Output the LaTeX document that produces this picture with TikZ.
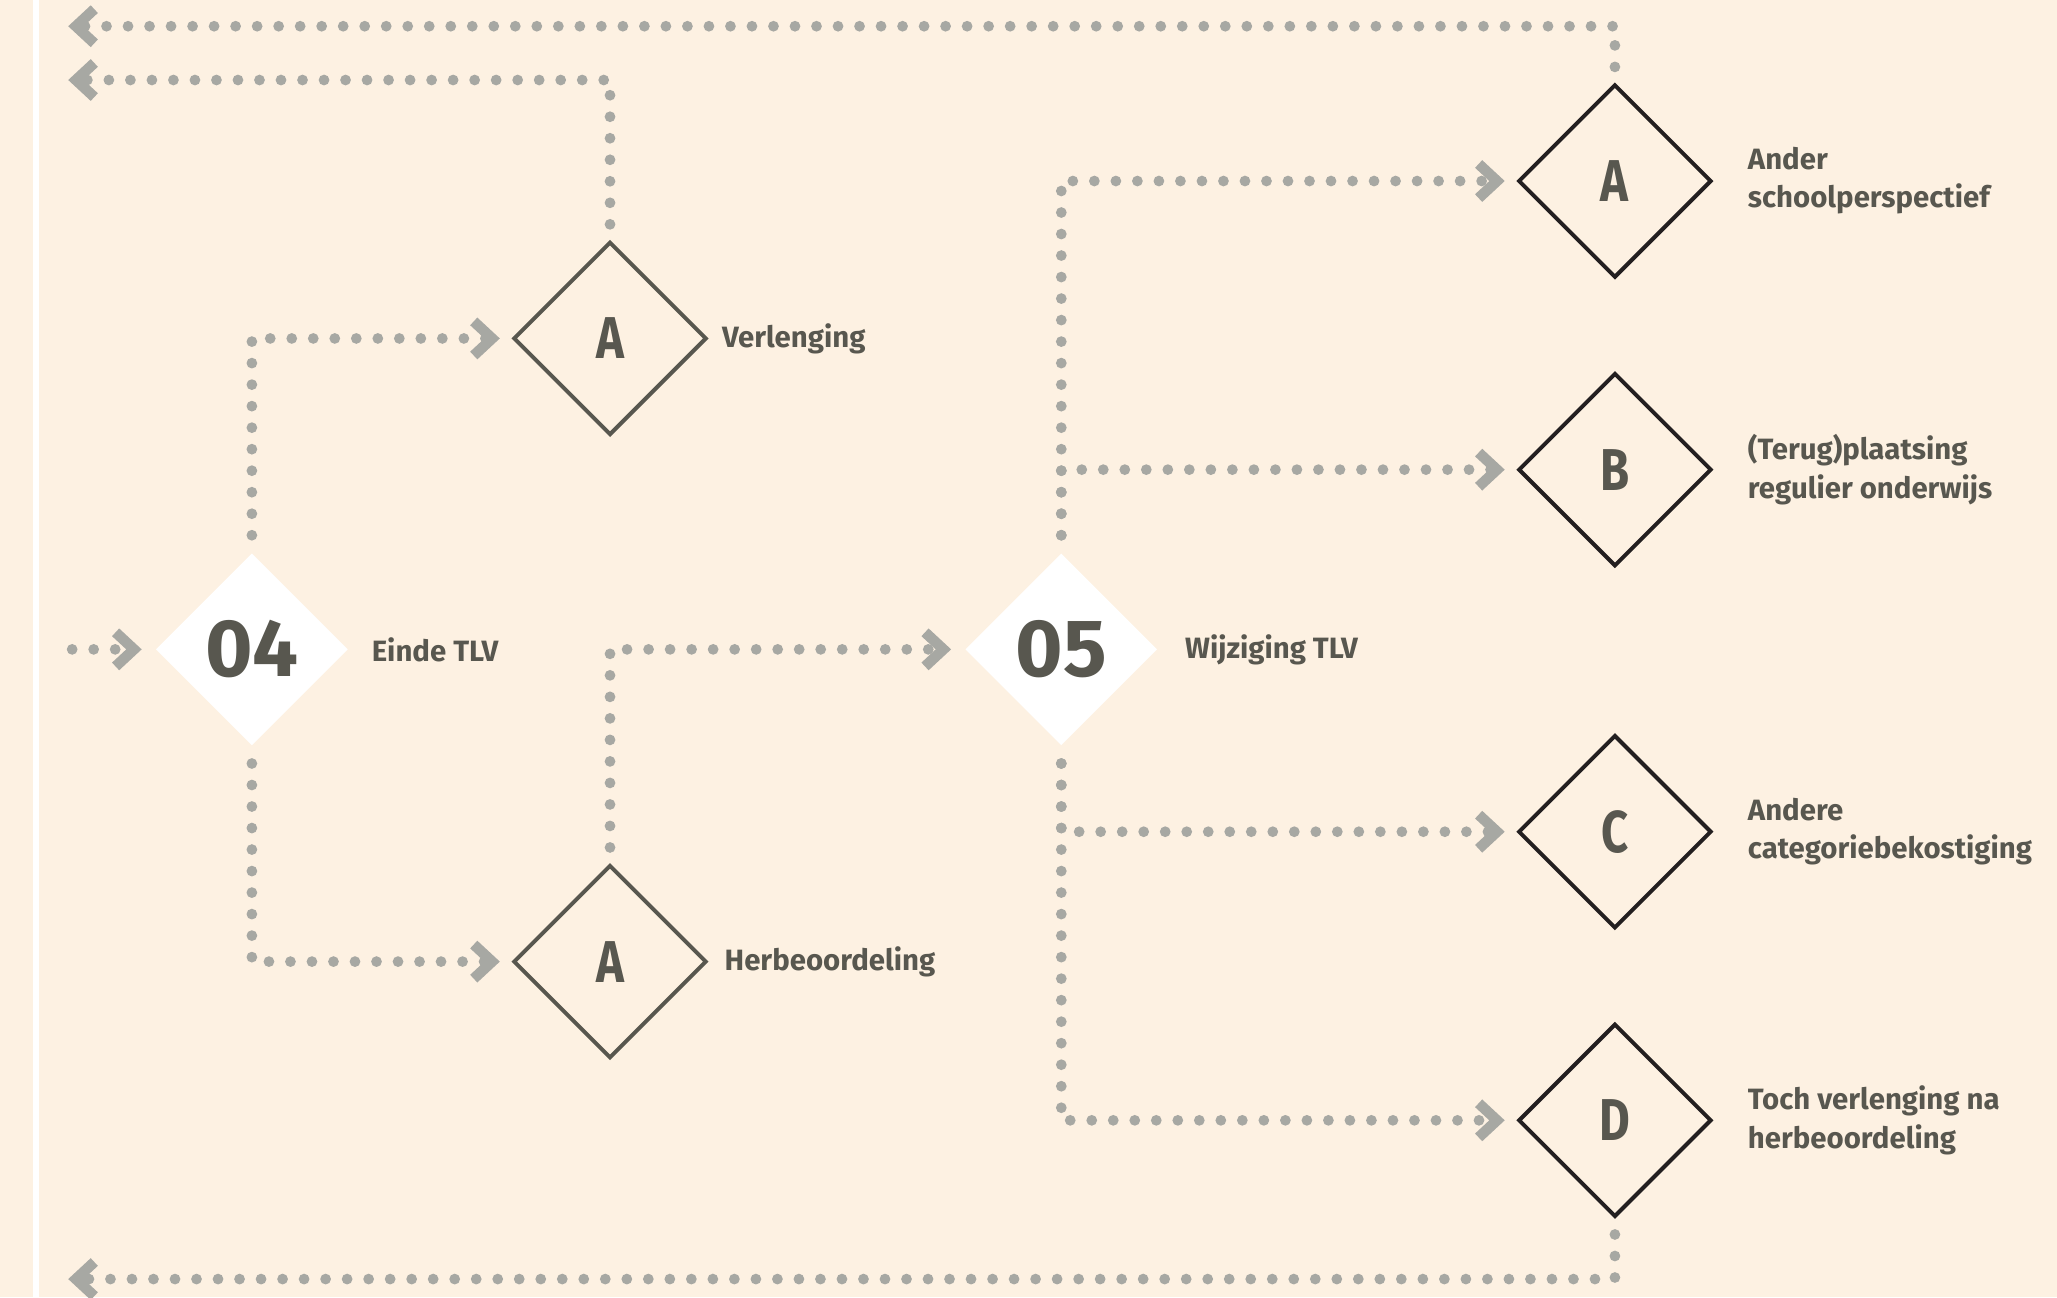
\documentclass[tikz,border=0pt]{standalone}
\usepackage{fontspec}
\setmainfont{Fira Sans}
\newfontfamily\lettrfont[FakeStretch=0.8]{Fira Sans}
\usetikzlibrary{positioning,shapes.geometric,arrows.meta}
\definecolor{cream}{HTML}{FDF1E2}
\definecolor{dotgray}{HTML}{A7A8A3}
\definecolor{txtgray}{HTML}{58574F}
\definecolor{inkblack}{HTML}{231F20}
\tikzset{
  stap/.style={diamond, fill=white, minimum size=73pt, inner sep=0pt,
    outer sep=0pt, text=txtgray, font=\bfseries\fontsize{31}{31}\selectfont},
  keuze/.style={diamond, draw=#1, line width=1.5pt, minimum size=73pt,
    inner sep=0pt, outer sep=0pt, text=txtgray,
    font=\lettrfont\bfseries\fontsize{22.5}{22.5}\selectfont},
  uitleg/.style={anchor=west, inner sep=0pt, align=left, text=txtgray,
    font=\bfseries\fontsize{11.2}{14.5}\selectfont},
  route/.style={dotgray, line width=4.1pt, line cap=round,
    dash pattern=on 0pt off 8.2pt,
    -{Straight Barb[length=7pt,width=13pt,line width=4pt,sharp]},
    shorten <=7pt, shorten >=5.5pt},
}
\begin{document}
\begin{tikzpicture}[x=0.5pt,y=-0.5pt]
  \fill[cream] (0,0) rectangle (1568,989);
  \useasboundingbox (0,0) rectangle (1568,989);
  \fill[white] (25.5,0) rectangle (29.5,989);

  \node[stap] (d04) at (192,495) {04};
  \node[stap] (d05) at (809,495) {05};
  \node[keuze=txtgray] (verl) at (465,258) {A};
  \node[keuze=txtgray] (herb) at (465,733) {A};
  \node[keuze=inkblack] (kA) at (1231,138) {A};
  \node[keuze=inkblack] (kB) at (1231,358) {B};
  \node[keuze=inkblack] (kC) at (1231,634) {C};
  \node[keuze=inkblack] (kD) at (1231,854) {D};

  \node[uitleg, right=9pt of d04] (l04) {Einde TLV};
  \node[uitleg, right=10.5pt of d05] (l05) {Wijziging TLV};
  \node[uitleg, right=6pt of verl] (lverl) {Verlenging};
  \node[uitleg, right=7pt of herb] (lherb) {Herbeoordeling};
  \node[uitleg, right=14pt of kA] (lA) {Ander\\schoolperspectief};
  \node[uitleg, right=14pt of kB] (lB) {(Terug)plaatsing\\regulier onderwijs};
  \node[uitleg, right=14pt of kC] (lC) {Andere\\categoriebekostiging};
  \node[uitleg, right=14pt of kD] (lD) {Toch verlenging na\\herbeoordeling};

  \coordinate (in) at (55,495);
  \coordinate (uit1) at (52,20);
  \coordinate (uit2) at (52,61);
  \coordinate (uit3) at (52,975);

  \draw[route, shorten <=0pt] (in) -- (d04.west);
  \draw[route] (d04.north) |- (verl.west);
  \draw[route] (d04.south) |- (herb.west);
  \draw[route] (herb.north) |- (d05.west);
  \foreach \k in {kA,kB}
    \draw[route] (d05.north) |- (\k.west);
  \foreach \k in {kC,kD}
    \draw[route] (d05.south) |- (\k.west);
  \draw[route, shorten >=0pt] (verl.north) |- (uit2);
  \draw[route, shorten >=0pt] (kA.north) |- (uit1);
  \draw[route, shorten >=0pt] (kD.south) |- (uit3);
\end{tikzpicture}
\end{document}
